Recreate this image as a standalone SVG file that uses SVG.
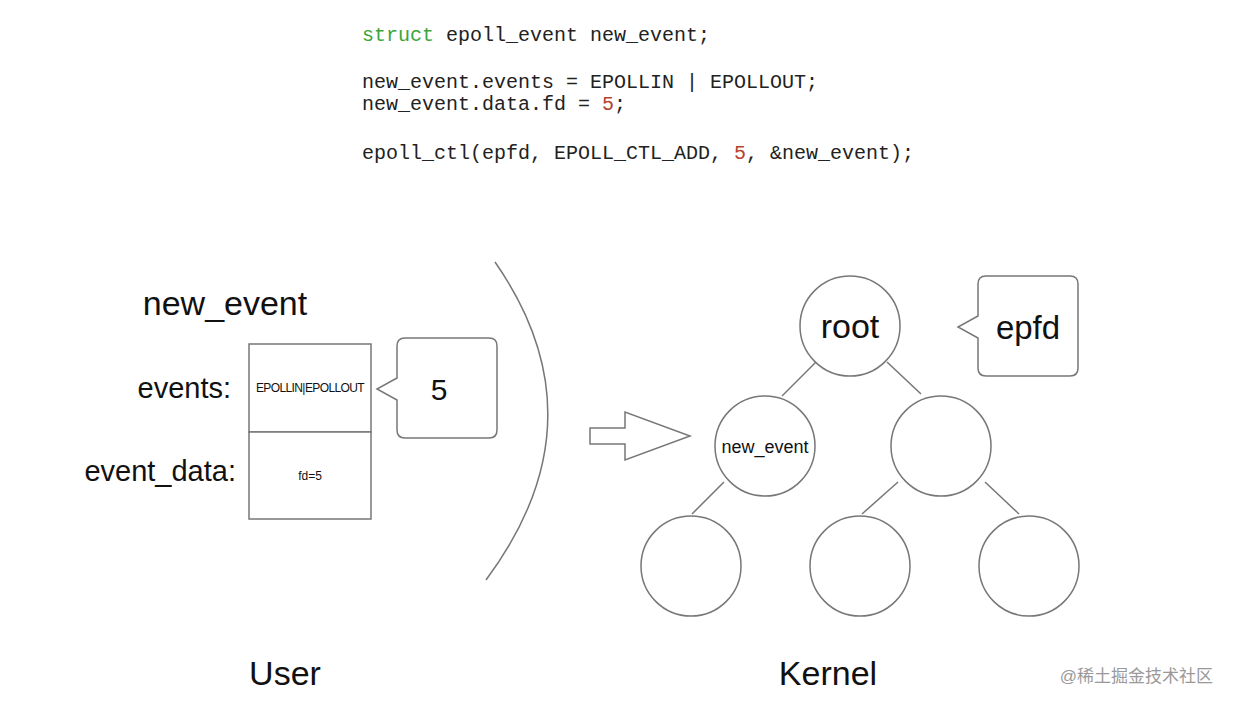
<svg xmlns="http://www.w3.org/2000/svg" width="1233" height="707" viewBox="0 0 1233 707">
<style>
.code{font-family:"Liberation Mono",monospace;font-size:20px;fill:#222}
.t{font-family:"Liberation Sans",Arial,sans-serif;fill:#111}
.s{fill:none;stroke:#777;stroke-width:1.5}
.c{fill:#fff;stroke:#777;stroke-width:1.5}
</style>
<rect width="1233" height="707" fill="#fff"/>
<g id="code">
<text class="code" x="362" y="41"><tspan fill="#3aa53a">struct</tspan> epoll_event new_event;</text>
<text class="code" x="362" y="88">new_event.events = EPOLLIN | EPOLLOUT;</text>
<text class="code" x="362" y="110">new_event.data.fd = <tspan fill="#b5412f">5</tspan>;</text>
<text class="code" x="362" y="159">epoll_ctl(epfd, EPOLL_CTL_ADD, <tspan fill="#b5412f">5</tspan>, &amp;new_event);</text>
</g>
<g id="connectors">
<line class="s" x1="816" y1="362" x2="782" y2="396"/>
<line class="s" x1="887" y1="362" x2="921" y2="394"/>
<line class="s" x1="724" y1="482" x2="692" y2="514"/>
<line class="s" x1="898" y1="482" x2="862" y2="514"/>
<line class="s" x1="985" y1="482" x2="1019" y2="514"/>
</g>
<g id="user">
<text class="t" x="225" y="315" font-size="34" text-anchor="middle">new_event</text>
<text class="t" x="231" y="398" font-size="29" text-anchor="end">events:</text>
<text class="t" x="236" y="481" font-size="29" text-anchor="end">event_data:</text>
<g id="struct-box">
<rect class="c" x="249" y="344" width="122" height="88"/>
<rect class="c" x="249" y="432" width="122" height="87"/>
<text class="t" x="310" y="392" font-size="12" text-anchor="middle" letter-spacing="-0.6">EPOLLIN|EPOLLOUT</text>
<text class="t" x="310" y="480" font-size="12" text-anchor="middle">fd=5</text>
</g>
<g id="callout-5">
<path class="c" d="M405,338 H489 Q497,338 497,346 V430 Q497,438 489,438 H405 Q397,438 397,430 V400 L377,389 L397,378 V346 Q397,338 405,338 Z"/>
<text class="t" x="439" y="400" font-size="30" text-anchor="middle">5</text>
</g>
<text class="t" x="285" y="685" font-size="34" text-anchor="middle">User</text>
</g>
<path id="divider" class="s" d="M495,262 Q605,420 486,580"/>
<polygon id="arrow" class="c" points="590,428 625,428 625,412 690,436 625,460 625,444 590,444"/>
<g id="kernel">
<g id="root"><circle class="c" cx="850" cy="326" r="50"/><text class="t" x="850" y="338" font-size="34" text-anchor="middle">root</text></g>
<g id="callout-epfd">
<path class="c" d="M986,276 H1070 Q1078,276 1078,284 V368 Q1078,376 1070,376 H986 Q978,376 978,368 V338 L958,327 L978,316 V284 Q978,276 986,276 Z"/>
<text class="t" x="1028" y="339" font-size="33" text-anchor="middle">epfd</text>
</g>
<g id="n-new"><circle class="c" cx="765" cy="446" r="50"/><text class="t" x="765" y="453" font-size="18" text-anchor="middle">new_event</text></g>
<g id="n-right"><circle class="c" cx="941" cy="446" r="50"/></g>
<g id="n-bl"><circle class="c" cx="691" cy="566" r="50"/></g>
<g id="n-bm"><circle class="c" cx="860" cy="566" r="50"/></g>
<g id="n-br"><circle class="c" cx="1029" cy="566" r="50"/></g>
<text class="t" x="828" y="685" font-size="34" text-anchor="middle">Kernel</text>
</g>
<text x="1213" y="682" font-family="'Liberation Sans','Noto Sans CJK SC',sans-serif" font-size="17" fill="#999" text-anchor="end">@稀土掘金技术社区</text>
</svg>
